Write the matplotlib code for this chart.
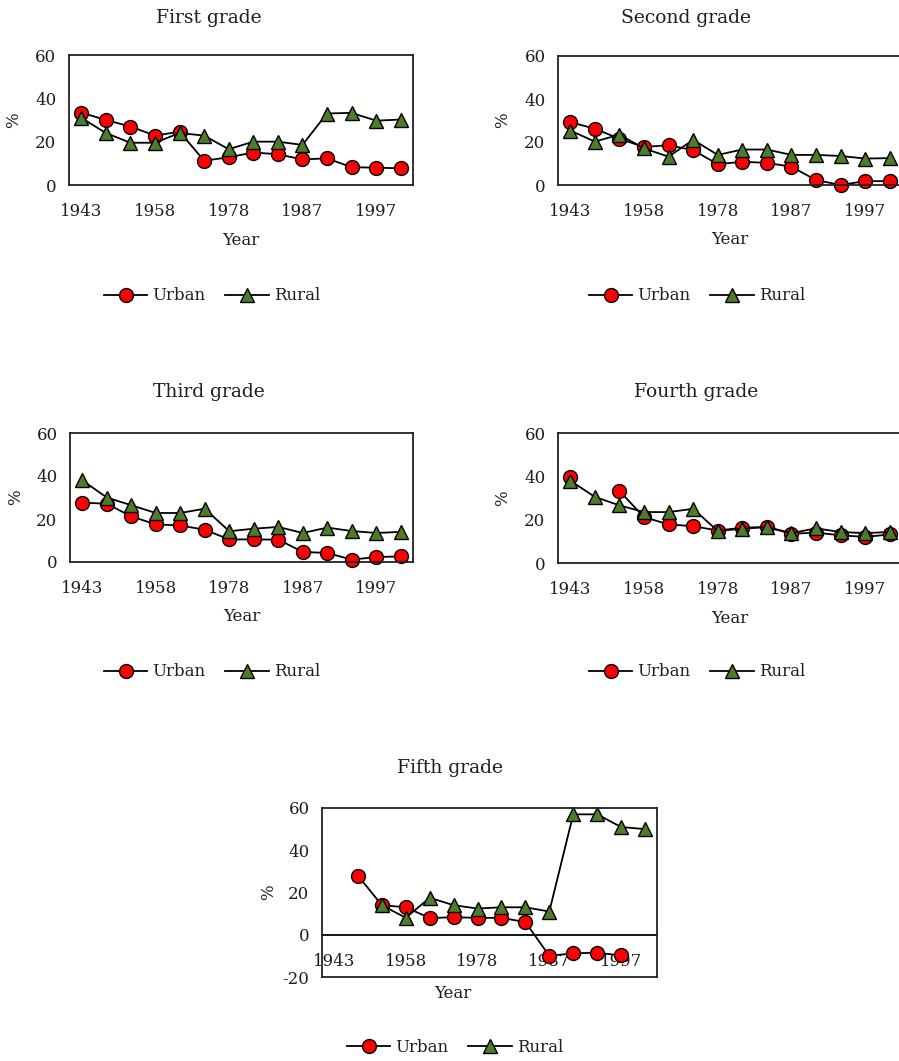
import numpy as np
from matplotlib import pyplot

pyplot.rcParams['font.family'] = 'DejaVu Serif'
pyplot.rcParams['axes.unicode_minus'] = False

# Values (14 categories, only every third year labelled).
nan = np.nan
year_labels = ['1943', '1958', '1978', '1987', '1997']

first_urban = [33.4, 30.0, 27.0, 22.8, 24.6, 11.2, 12.8, 15.0, 14.2, 11.8, 12.3, 8.2, 8.0, 7.7]
first_rural = [31.0, 24.0, 19.5, 19.5, 24.0, 22.8, 16.5, 20.0, 20.0, 18.5, 33.0, 33.3, 29.7, 30.2]

second_urban = [29.2, 26.2, 21.5, 17.7, 18.5, 16.2, 9.7, 10.8, 10.3, 8.5, 2.3, 0.0, 1.8, 1.8]
second_rural = [25.3, 20.2, 23.4, 17.0, 13.2, 21.0, 14.0, 16.5, 16.5, 14.0, 14.0, 13.5, 12.3, 12.5]

third_urban = [27.6, 27.1, 21.2, 17.5, 17.0, 15.0, 10.5, 10.5, 10.4, 4.7, 4.2, 1.1, 2.3, 2.6]
third_rural = [38.0, 30.0, 26.4, 22.8, 22.8, 24.8, 14.3, 15.5, 16.3, 13.5, 16.0, 14.4, 13.5, 14.0]

fourth_urban = [39.7, nan, 33.2, 21.2, 17.8, 17.0, 15.0, 16.3, 16.6, 13.5, 14.0, 12.8, 12.0, 13.2]
fourth_rural = [38.0, 30.5, 26.6, 23.5, 23.5, 25.0, 14.8, 15.8, 16.6, 13.8, 16.0, 14.3, 13.8, 14.3]

fifth_urban = [nan, 28.0, 14.0, 13.0, 7.9, 8.3, 8.0, 8.0, 6.0, -10.0, -8.8, -8.5, -9.8, nan]
fifth_rural = [nan, nan, 14.0, 8.0, 17.5, 14.0, 12.4, 13.0, 13.0, 11.0, 57.0, 57.0, 51.0, 50.0]

W, H = 899, 1061
TXT = '#1e1e1e'
fig = pyplot.figure(figsize=(W / 100, H / 100), dpi=100)


def px_axes(x0, y0, x1, y1):
  return fig.add_axes([x0 / W, 1 - y1 / H, (x1 - x0) / W, (y1 - y0) / H])


def draw_panel(box, title, title_xy, urban, rural, legend_xy, ylim, xlabel_x=0.5):
  ax = px_axes(*box)
  n = len(urban)
  x = np.arange(n)
  ax.plot(x, urban, color='black', linewidth=1.3, marker='o', markersize=10,
          markerfacecolor='#ff0000', markeredgecolor='black', markeredgewidth=1.0,
          label='Urban', clip_on=False)
  ax.plot(x, rural, color='black', linewidth=1.3, marker='^', markersize=9.5,
          markerfacecolor='#4e7d2a', markeredgecolor='black', markeredgewidth=1.0,
          label='Rural', clip_on=False)
  ax.set_xlim(-0.5, n - 0.5)
  ax.set_ylim(*ylim)
  ax.set_yticks(np.arange(ylim[0], ylim[1] + 1, 20))
  ax.tick_params(axis='y', length=0, pad=9, labelsize=12, colors=TXT)
  for s in ax.spines.values():
    s.set_linewidth(1.3)
    s.set_color('#222222')
  label_pos = np.arange(0, n, 3)
  if ylim[0] < 0:
    ax.set_xticks([])
    frac = -ylim[0] / (ylim[1] - ylim[0])
    sec = ax.secondary_xaxis(frac)
    sec.set_xticks(label_pos, year_labels)
    sec.tick_params(length=0, pad=13, labelsize=12, colors=TXT)
    sec.spines['bottom'].set_linewidth(1.3)
  else:
    ax.set_xticks(label_pos, year_labels)
    ax.tick_params(axis='x', length=0, pad=13, labelsize=12, colors=TXT)
  ax.set_ylabel('%', fontsize=12, color=TXT)
  ax.yaxis.set_label_coords(-0.135, 0.5)
  ax.set_xlabel('Year', fontsize=12, color=TXT)
  bottom_gap = 0.05 if ylim[0] < 0 else 0.36
  ax.xaxis.set_label_coords(xlabel_x, -bottom_gap)
  fig.text(title_xy[0] / W, 1 - title_xy[1] / H, title, fontsize=13.5,
           ha='center', va='center', color=TXT)
  ax.legend(loc='center', bbox_to_anchor=(legend_xy[0] / W, 1 - legend_xy[1] / H),
            bbox_transform=fig.transFigure, ncol=2, frameon=False, fontsize=12,
            handlelength=2.6, handletextpad=0.3, columnspacing=1.2,
            labelcolor=TXT)
  return ax


draw_panel((69, 55, 413, 185), 'First grade', (209, 18), first_urban, first_rural,
           (212, 296), (0, 60))
draw_panel((558, 56, 902, 185), 'Second grade', (686, 18), second_urban, second_rural,
           (697, 296), (0, 60))
draw_panel((70, 433, 413, 562), 'Third grade', (209, 392), third_urban, third_rural,
           (212, 672), (0, 60))
draw_panel((558, 433, 902, 563), 'Fourth grade', (696, 392), fourth_urban, fourth_rural,
           (697, 672), (0, 60))
draw_panel((322, 808, 657, 977), 'Fifth grade', (450, 768), fifth_urban, fifth_rural,
           (455, 1047), (-20, 60), xlabel_x=0.39)

fig.savefig('out.png', dpi=100)
